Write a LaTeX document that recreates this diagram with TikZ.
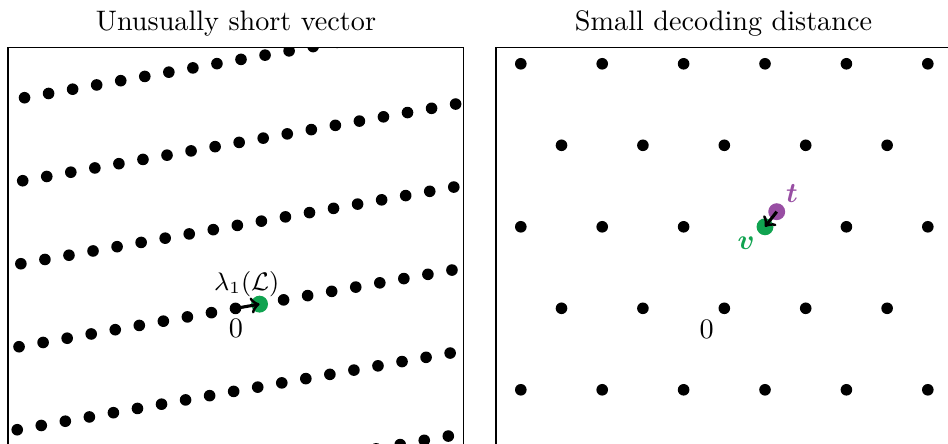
\documentclass[tikz,border=0pt]{standalone}
\usepackage{amsmath}
\definecolor{dotgreen}{RGB}{16,163,80}
\definecolor{dotpurple}{RGB}{152,78,163}
\begin{document}
\begin{tikzpicture}[x=0.3546pt,y=-0.3546pt,
  latt/.style={fill=black},
  bigdot/.style={circle,inner sep=0pt,minimum size=6pt},
  vecarrow/.style={->,line width=1.1pt},
  panel/.style={draw=black,line width=0.4pt}]
\useasboundingbox (0,0) rectangle (948,444);
% titles
\node[anchor=base] (title1) at (236,30.7) {Unusually short vector};
\node[anchor=base] (title2) at (723.5,30.7) {Small decoding distance};
% left panel
\draw[panel] (8,47.5) rectangle (463.5,503);
\begin{scope}
\clip (8,47.5) rectangle (463.5,503);
\foreach \j in {-3,...,2}{
  \foreach \i in {-15,...,15}{
    \fill[latt] ({235.5+\i*24.05-\j*1.83},{308.4-\i*4.26+\j*83}) circle (2.06pt);
  }
}
\end{scope}
\coordinate (o1) at (235.5,308.4);
\node[bigdot,fill=dotgreen] (g1) at (259.55,304.14) {};
\draw[vecarrow] (o1) -- (g1.center);
\node[font=\small] (lam) at (246.7,284) {$\lambda_1(\mathcal{L})$};
\node (zero1) at (236,328.5) {$0$};
% right panel
\draw[panel] (496,47.5) rectangle (951.5,503);
\begin{scope}
\clip (496,47.5) rectangle (951.5,503);
\foreach \j in {-3,...,2}{
  \foreach \i in {-8,...,8}{
    \fill[latt] ({724.3+\i*81.4-\j*40.7},{308.3+\j*81.5}) circle (2.06pt);
  }
}
\end{scope}
\node[bigdot,fill=dotgreen] (v) at (765,226.8) {};
\node[bigdot,fill=dotpurple] (t) at (776.7,211.7) {};
\draw[vecarrow] (t.center) -- (v.center);
\node[text=dotpurple] (tlab) at (792,193.3) {$\boldsymbol{t}$};
\node[text=dotgreen] (vlab) at (746,243) {$\boldsymbol{v}$};
\node (zero2) at (706.7,329) {$0$};
\end{tikzpicture}
\end{document}
